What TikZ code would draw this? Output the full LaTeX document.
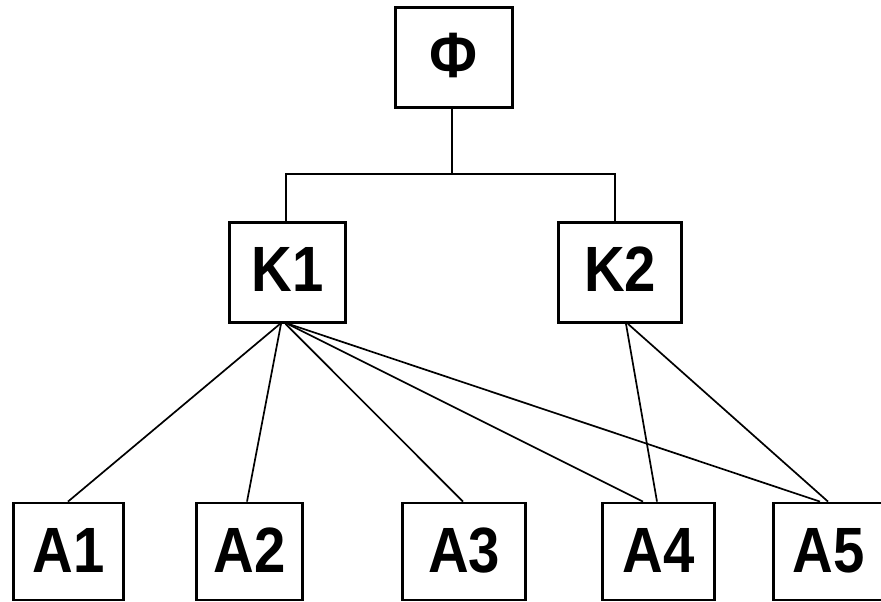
\documentclass[tikz,border=0pt]{standalone}
\usepackage{fontspec}
\setmainfont{Liberation Sans}
\newcommand{\narrow}[1]{\scalebox{0.88}[1]{#1}}
\begin{document}
\begin{tikzpicture}[x=1pt,y=-1pt,
  box/.style={draw, line width=2.8pt, inner sep=0pt, minimum height=100pt,
    font=\fontsize{64}{64}\selectfont\bfseries, text height=46pt},
  kbox/.style={box, text depth=9pt},
  abox/.style={box, minimum height=97pt, text depth=4pt},
  fbox/.style={box, text depth=6pt},
  tree/.style={line width=2.8pt},
  link/.style={line width=1.7pt}]
\useasboundingbox (0,0) rectangle (881,602);
\node[fbox, minimum width=117pt] (F) at (454,57.5) {\narrow{Ф}};
\node[kbox, minimum width=116pt] (K1) at (287.5,272.5) {\narrow{K1}};
\node[kbox, minimum width=123pt] (K2) at (620,272.5) {\narrow{K2}};
\node[abox, minimum width=110pt] (A1) at (68.5,551.5) {\narrow{A1}};
\node[abox, minimum width=106pt] (A2) at (249.5,551.5) {\narrow{A2}};
\node[abox, minimum width=123pt] (A3) at (464,551.5) {\narrow{A3}};
\node[abox, minimum width=112pt] (A4) at (658.5,551.5) {\narrow{A4}};
\node[abox, minimum width=110pt] (A5) at (828.5,551.5) {\narrow{A5}};
% tree
\coordinate (J) at ([yshift=-65pt]F.south);
\draw[tree] ([xshift=-2pt]F.south) -- ([xshift=-2pt]J);
\draw[tree] ([xshift=-1.5pt]K1.north) |- (J) -| ([xshift=-5pt]K2.north);
% links from K1
\draw[link] ([xshift=-7.5pt]K1.south) -- ([xshift=-0.5pt]A1.north);
\draw[link] ([xshift=-6.5pt]K1.south) -- ([xshift=-2.5pt]A2.north);
\draw[link] ([xshift=-2pt]K1.south) -- ([xshift=-1pt]A3.north);
\draw[link] ([xshift=0pt]K1.south) -- ([xshift=-15.5pt]A4.north);
\draw[link] ([xshift=1pt]K1.south) -- ([xshift=-8.5pt]A5.north);
% links from K2
\draw[link] ([xshift=6pt]K2.south) -- ([xshift=-1.5pt]A4.north);
\draw[link] ([xshift=8pt]K2.south) -- ([xshift=-0.5pt]A5.north);
\end{tikzpicture}
\end{document}
